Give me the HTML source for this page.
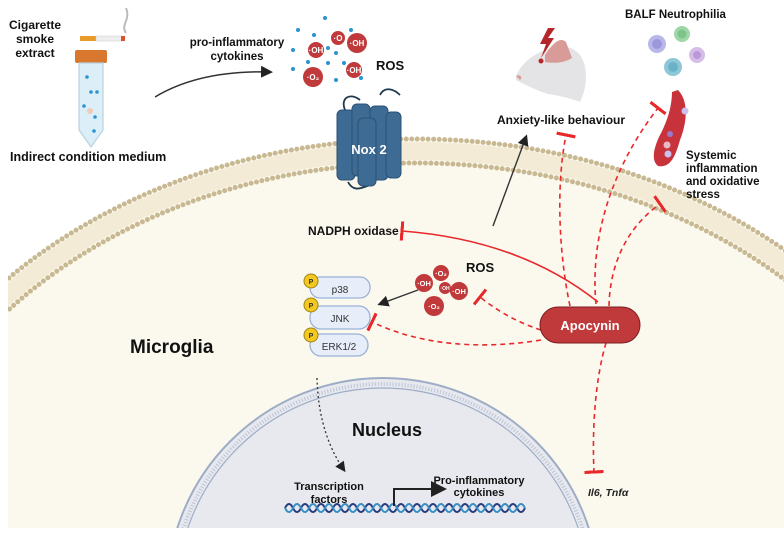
<!DOCTYPE html>
<html><head><meta charset="utf-8"><style>
html,body{margin:0;padding:0;background:#fff;width:784px;height:540px;overflow:hidden;}
svg{display:block;font-family:"Liberation Sans",Arial,sans-serif;}
.b{font-weight:bold;fill:#111;}
</style></head><body>
<svg width="784" height="540" viewBox="0 0 784 540">
<defs>
<clipPath id="cl"><rect x="8" y="0" width="776" height="528"/></clipPath>
<marker id="ah" markerWidth="8" markerHeight="8" refX="6" refY="4" orient="auto"><path d="M0,0 L8,4 L0,8 z" fill="#222"/></marker>
<marker id="tb" markerWidth="2" markerHeight="12" refX="1" refY="6" orient="auto"><rect x="0" y="0" width="2" height="12" fill="#e8282b"/></marker>
</defs>
<g clip-path="url(#cl)">
<ellipse cx="415" cy="595" rx="565" ry="456" fill="#fbf8ee"/>
<ellipse cx="415" cy="595" rx="565" ry="456" fill="none" stroke="#c9b992" stroke-width="5" stroke-dasharray="0 5.5" stroke-linecap="round"/>
<ellipse cx="415" cy="595" rx="553" ry="444" fill="none" stroke="#efe5cc" stroke-width="18" opacity="0.7"/>
<ellipse cx="415" cy="595" rx="541" ry="432" fill="none" stroke="#c9b992" stroke-width="5" stroke-dasharray="0 5.5" stroke-linecap="round"/>
<circle cx="383" cy="594" r="216" fill="#e8e9ef" stroke="#9eadc6" stroke-width="2"/>
<circle cx="383" cy="594" r="210" fill="none" stroke="#b9c4d6" stroke-width="4" stroke-dasharray="1 2"/>
<circle cx="383" cy="594" r="206" fill="none" stroke="#9eadc6" stroke-width="1.2"/>
</g>

<g>
<text class="b" font-size="12" text-anchor="middle"><tspan x="35" y="29">Cigarette</tspan><tspan x="35" y="43">smoke</tspan><tspan x="35" y="57">extract</tspan></text></g>
<g>
<rect x="80" y="36" width="16" height="5" fill="#e89a2b"/><rect x="96" y="36" width="26" height="5" fill="#eee" stroke="#ccc" stroke-width="0.5"/><rect x="121" y="36" width="4" height="5" fill="#d9532a"/>
<path d="M126,33 C120,25 131,20 126,8" fill="none" stroke="#bbb" stroke-width="2"/></g>
<g>
<rect x="75" y="50" width="32" height="13" rx="2" fill="#d9772f"/>
<path d="M79,63 L103,63 L103,130 L91,147 L79,130 z" fill="#dceef7" stroke="#b8d3e2" stroke-width="1.2"/>
<circle cx="87" cy="77" r="1.8" fill="#2b93d1"/><circle cx="91" cy="92" r="1.8" fill="#2b93d1"/><circle cx="97" cy="92" r="1.8" fill="#2b93d1"/><circle cx="84" cy="106" r="1.8" fill="#2b93d1"/><circle cx="95" cy="117" r="1.8" fill="#2b93d1"/><circle cx="94" cy="131" r="1.8" fill="#2b93d1"/><circle cx="90" cy="111" r="3" fill="#f0c9b8"/></g>
<text class="b" x="10" y="161" font-size="12.5">Indirect condition medium</text>
<path d="M155,97 Q200,70 270,72" fill="none" stroke="#333" stroke-width="1.5" marker-end="url(#ah)"/>
<text class="b" font-size="11.5" text-anchor="middle"><tspan x="237" y="46">pro-inflammatory</tspan><tspan x="237" y="60">cytokines</tspan></text>

<g>
<circle cx="313" cy="77" r="10" fill="#c0393b"/><circle cx="316" cy="50" r="8" fill="#c0393b"/><circle cx="338" cy="38" r="7" fill="#c0393b"/><circle cx="357" cy="43" r="10" fill="#c0393b"/><circle cx="354" cy="70" r="8" fill="#c0393b"/>
<g fill="#fff" font-size="8" font-weight="bold" text-anchor="middle"><text x="313" y="80">·O₂</text><text x="316" y="53">·OH</text><text x="338" y="41">·O</text><text x="357" y="46">·OH</text><text x="354" y="73">·OH</text></g>
<g fill="#2b93d1"><circle cx="325" cy="18" r="2"/><circle cx="298" cy="30" r="2"/><circle cx="314" cy="35" r="2"/><circle cx="351" cy="30" r="2"/><circle cx="293" cy="50" r="2"/><circle cx="328" cy="48" r="2"/><circle cx="336" cy="53" r="2"/><circle cx="308" cy="62" r="2"/><circle cx="328" cy="63" r="2"/><circle cx="344" cy="63" r="2"/><circle cx="293" cy="69" r="2"/><circle cx="336" cy="80" r="2"/><circle cx="361" cy="78" r="2"/></g>
<text class="b" x="376" y="70" font-size="13">ROS</text></g>

<g>
<path d="M345,110 C340,98 350,92 360,100 M380,95 C385,85 395,90 400,95 M348,182 C355,195 365,185 375,184" fill="none" stroke="#1f3a4e" stroke-width="1.8"/>
<g fill="#3d6b94" stroke="#2c5173" stroke-width="1">
<rect x="337" y="110" width="18" height="70" rx="5"/><rect x="352" y="104" width="18" height="72" rx="5"/><rect x="370" y="106" width="18" height="74" rx="5"/><rect x="386" y="112" width="15" height="66" rx="5"/><rect x="358" y="118" width="18" height="68" rx="5"/></g>
<text x="369" y="154" fill="#fff" font-size="13" font-weight="bold" text-anchor="middle">Nox 2</text></g>

<text class="b" x="308" y="235" font-size="12">NADPH oxidase</text>
<path d="M402,231 Q520,240 598,302" fill="none" stroke="#e8282b" stroke-width="1.6" marker-start="url(#tb)"/>

<g>
<path d="M516,76 C522,62 535,52 555,47 C575,44 585,55 586,75 C586,88 583,96 580,102 C570,98 560,96 548,94 C535,90 524,84 516,80 z" fill="#e4e4e6"/>
<path d="M516,76 C520,74 523,77 520,80 z" fill="#d89b97"/>
<path d="M545,55 C552,44 560,36 566,42 L572,58 C566,62 556,64 545,62 z" fill="#d89b97"/>
<path d="M548,28 L540,44 L546,44 L541,58 L554,38 L548,38 L555,28 z" fill="#b5262a"/>
<circle cx="541" cy="61" r="2.5" fill="#b5262a"/></g>
<text class="b" x="497" y="124" font-size="12">Anxiety-like behaviour</text>
<path d="M493,226 L526,137" fill="none" stroke="#333" stroke-width="1.4" marker-end="url(#ah)"/>

<text class="b" x="625" y="18" font-size="11.5">BALF Neutrophilia</text>
<g>
<circle cx="657" cy="44" r="9" fill="#b9b7ea"/><circle cx="657" cy="44" r="5" fill="#9c98dc"/>
<circle cx="682" cy="34" r="8" fill="#9fd6a8"/><circle cx="682" cy="34" r="4.5" fill="#7cc489"/>
<circle cx="697" cy="55" r="8" fill="#d5bde8"/><circle cx="697" cy="55" r="4" fill="#bb98d8"/>
<circle cx="673" cy="67" r="9" fill="#8ec8d8"/><circle cx="673" cy="67" r="5" fill="#6cb2c7"/></g>
<g>
<path d="M678,90 C688,100 688,120 680,140 C675,158 670,168 658,166 C650,160 655,145 660,135 C668,120 672,105 672,92 z" fill="#c8333b"/>
<circle cx="685" cy="111" r="3.5" fill="#c9c2ee"/><circle cx="670" cy="134" r="3" fill="#9b7ac9"/><circle cx="667" cy="145" r="3.5" fill="#e7b9c5"/><circle cx="668" cy="154" r="3.5" fill="#c9c2ee"/></g>
<text class="b" font-size="11.5"><tspan x="686" y="159">Systemic</tspan><tspan x="686" y="172">inflammation</tspan><tspan x="686" y="185">and oxidative</tspan><tspan x="686" y="198">stress</tspan></text>

<g fill="none" stroke="#e8282b" stroke-width="1.6" stroke-dasharray="5 4">
<path d="M570,306 C560,260 555,190 566,135" marker-end="url(#tb)"/>
<path d="M596,304 C590,240 610,170 658,108" marker-end="url(#tb)"/>
<path d="M609,306 C610,260 630,225 660,204" marker-end="url(#tb)"/>
<path d="M541,330 C510,320 490,305 480,297" marker-end="url(#tb)"/>
<path d="M541,340 C480,350 420,345 372,322" marker-end="url(#tb)"/>
<path d="M606,343 C595,380 592,430 594,472" marker-end="url(#tb)"/>
</g>

<g>
<circle cx="441" cy="273" r="8" fill="#c0393b"/><circle cx="424" cy="283" r="9" fill="#c0393b"/><circle cx="445" cy="288" r="6" fill="#c0393b"/><circle cx="459" cy="291" r="9" fill="#c0393b"/><circle cx="434" cy="306" r="10" fill="#c0393b"/>
<g fill="#fff" font-size="7.5" font-weight="bold" text-anchor="middle"><text x="441" y="276">·O₂</text><text x="424" y="286">·OH</text><text x="445" y="290" font-size="5">·OH</text><text x="459" y="294">·OH</text><text x="434" y="309">·O₂</text></g>
<text class="b" x="466" y="272" font-size="13">ROS</text></g>
<path d="M418,290 L380,304" stroke="#333" stroke-width="1.4" marker-end="url(#ah)"/>

<g>
<g fill="#e7eef9" stroke="#98b1d8" stroke-width="1.3">
<rect x="310" y="277" width="60" height="21" rx="10"/><rect x="310" y="306" width="60" height="23" rx="11"/><rect x="310" y="334" width="58" height="22" rx="11"/></g>
<g fill="#f3c81f" stroke="#9e8412" stroke-width="1"><circle cx="311" cy="281" r="7"/><circle cx="311" cy="305" r="7"/><circle cx="311" cy="335" r="7"/></g>
<g font-size="7" font-weight="bold" text-anchor="middle" fill="#333"><text x="311" y="284">P</text><text x="311" y="308">P</text><text x="311" y="338">P</text></g>
<g font-size="10" text-anchor="middle" fill="#333"><text x="340" y="293">p38</text><text x="340" y="322">JNK</text><text x="339" y="350">ERK1/2</text></g></g>

<text class="b" x="130" y="353" font-size="19">Microglia</text>

<g>
<rect x="540" y="307" width="100" height="36" rx="18" fill="#c0393b" stroke="#7c1d20" stroke-width="1"/>
<text x="590" y="330" font-size="13" font-weight="bold" fill="#fff" text-anchor="middle">Apocynin</text></g>

<path d="M317,378 C318,420 330,450 344,470" fill="none" stroke="#333" stroke-width="1.3" stroke-dasharray="2 2.5" marker-end="url(#ah)"/>
<text class="b" x="352" y="436" font-size="18">Nucleus</text>
<text class="b" font-size="11" text-anchor="middle"><tspan x="329" y="490">Transcription</tspan><tspan x="329" y="503">factors</tspan></text>
<text class="b" font-size="11" text-anchor="middle"><tspan x="479" y="484">Pro-inflammatory</tspan><tspan x="479" y="496">cytokines</tspan></text>
<g>
<path d="M285,508 q4,-8 8,0 t8,0 t8,0 t8,0 t8,0 t8,0 t8,0 t8,0 t8,0 t8,0 t8,0 t8,0 t8,0 t8,0 t8,0 t8,0 t8,0 t8,0 t8,0 t8,0 t8,0 t8,0 t8,0 t8,0 t8,0 t8,0 t8,0 t8,0 t8,0 t8,0" fill="none" stroke="#2a3d7a" stroke-width="2"/>
<path d="M285,508 q4,8 8,0 t8,0 t8,0 t8,0 t8,0 t8,0 t8,0 t8,0 t8,0 t8,0 t8,0 t8,0 t8,0 t8,0 t8,0 t8,0 t8,0 t8,0 t8,0 t8,0 t8,0 t8,0 t8,0 t8,0 t8,0 t8,0 t8,0 t8,0 t8,0 t8,0" fill="none" stroke="#3a8fc4" stroke-width="2"/>
<path d="M394,506 L394,489 L443,489" fill="none" stroke="#222" stroke-width="2" marker-end="url(#ah)"/></g>
<text x="588" y="496" font-size="10.5" font-weight="bold" font-style="italic" fill="#222">Il6, Tnfα</text>
</svg>
</body></html>
